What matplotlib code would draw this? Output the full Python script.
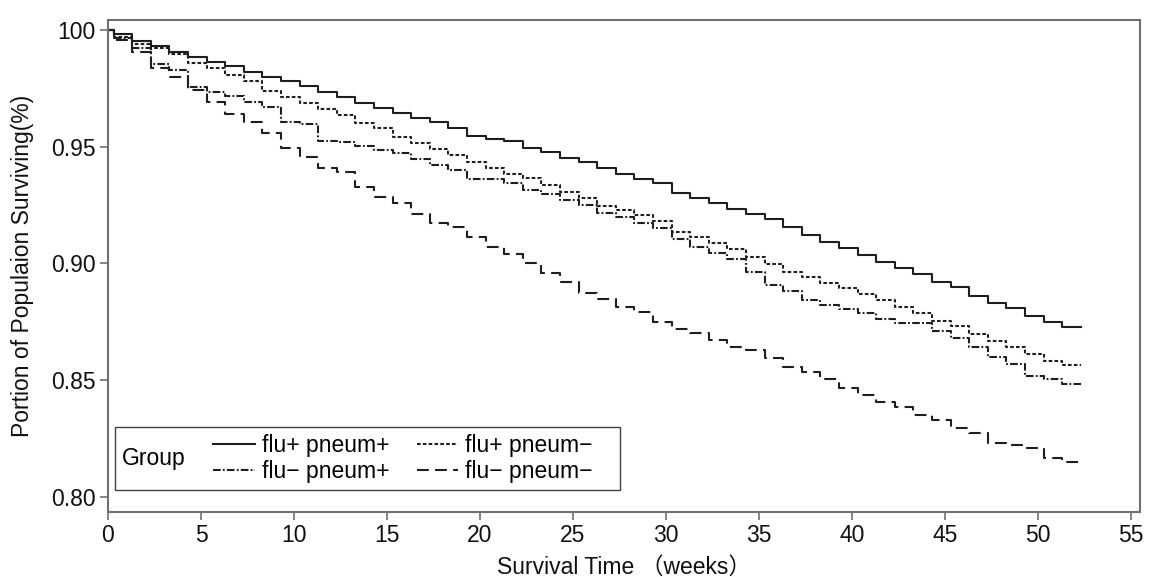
import matplotlib
matplotlib.use("Agg")
import matplotlib.pyplot as plt
from matplotlib.offsetbox import HPacker, DrawingArea

plt.rcParams['font.family'] = ['Liberation Sans', 'Noto Sans CJK SC', 'DejaVu Sans']
plt.rcParams['lines.scale_dashes'] = False

# step times (weeks); the last value is where the curves stop
weeks = [0, 0.3, 1.3, 2.3, 3.3, 4.3, 5.3, 6.3, 7.3, 8.3, 9.3, 10.3, 11.3, 12.3,
         13.3, 14.3, 15.3, 16.3, 17.3, 18.3, 19.3, 20.3, 21.3, 22.3, 23.3, 24.3,
         25.3, 26.3, 27.3, 28.3, 29.3, 30.3, 31.3, 32.3, 33.3, 34.3, 35.3, 36.3,
         37.3, 38.3, 39.3, 40.3, 41.3, 42.3, 43.3, 44.3, 45.3, 46.3, 47.3, 48.3,
         49.3, 50.3, 51.3, 52.3]

flu_pos_pneum_pos = [1.000, 0.9982, 0.9954, 0.9933, 0.9904, 0.9883, 0.9864, 0.9846, 0.9821,
                     0.9799, 0.9783, 0.9760, 0.9736, 0.9714, 0.9687, 0.9667, 0.9646, 0.9621,
                     0.9606, 0.9579, 0.9546, 0.9534, 0.9524, 0.9493, 0.9478, 0.9450, 0.9436,
                     0.9407, 0.9385, 0.9362, 0.9343, 0.9303, 0.9279, 0.9260, 0.9231, 0.9210,
                     0.9189, 0.9154, 0.9121, 0.9093, 0.9064, 0.9036, 0.9007, 0.8979, 0.8954,
                     0.8921, 0.8897, 0.8860, 0.8831, 0.8807, 0.8774, 0.8750, 0.8728]

flu_pos_pneum_neg = [1.000, 0.9971, 0.9940, 0.9921, 0.9896, 0.9857, 0.9836, 0.9807, 0.9781,
                     0.9739, 0.9714, 0.9686, 0.9660, 0.9636, 0.9600, 0.9578, 0.9543, 0.9517,
                     0.9490, 0.9464, 0.9436, 0.9407, 0.9381, 0.9364, 0.9336, 0.9304, 0.9279,
                     0.9247, 0.9228, 0.9209, 0.9181, 0.9136, 0.9114, 0.9088, 0.9060, 0.9028,
                     0.8997, 0.8961, 0.8943, 0.8914, 0.8895, 0.8868, 0.8843, 0.8812, 0.8786,
                     0.8754, 0.8731, 0.8697, 0.8667, 0.8643, 0.8610, 0.8583, 0.8564]

flu_neg_pneum_pos = [1.000, 0.9964, 0.9921, 0.9853, 0.9829, 0.9757, 0.9736, 0.9717, 0.9693,
                     0.9671, 0.9604, 0.9596, 0.9524, 0.9519, 0.9504, 0.9486, 0.9471, 0.9447,
                     0.9421, 0.9400, 0.9360, 0.9360, 0.9346, 0.9314, 0.9296, 0.9271, 0.9250,
                     0.9217, 0.9197, 0.9171, 0.9150, 0.9103, 0.9069, 0.9043, 0.9017, 0.8964,
                     0.8907, 0.8883, 0.8843, 0.8821, 0.8803, 0.8788, 0.8761, 0.8743, 0.8743,
                     0.8710, 0.8679, 0.8643, 0.8597, 0.8567, 0.8518, 0.8503, 0.8481]

flu_neg_pneum_neg = [1.000, 0.9957, 0.9904, 0.9839, 0.9800, 0.9743, 0.9690, 0.9639, 0.9604,
                     0.9557, 0.9495, 0.9457, 0.9407, 0.9393, 0.9328, 0.9286, 0.9260, 0.9211,
                     0.9171, 0.9157, 0.9114, 0.9069, 0.9041, 0.9000, 0.8960, 0.8921, 0.8874,
                     0.8846, 0.8814, 0.8793, 0.8750, 0.8719, 0.8700, 0.8672, 0.8643, 0.8628,
                     0.8593, 0.8554, 0.8535, 0.8503, 0.8464, 0.8436, 0.8407, 0.8385, 0.8350,
                     0.8328, 0.8293, 0.8272, 0.8231, 0.8221, 0.8207, 0.8164, 0.8147]

group_labels = ["flu+ pneum+", "flu\u2212 pneum+", "flu+ pneum\u2212", "flu\u2212 pneum\u2212"]
x_ticks = [0, 5, 10, 15, 20, 25, 30, 35, 40, 45, 50, 55]
y_ticks = [0.80, 0.85, 0.90, 0.95, 1.00]
y_tick_labels = ["0.80", "0.85", "0.90", "0.95", "100"]

FS = 16.5
LC = '#1e1e1e'
AX = '#707070'

fig = plt.figure(figsize=(11.49, 5.77), dpi=100)
ax = fig.add_axes([108 / 1149, 1 - 512 / 577, (1140 - 108) / 1149, (512 - 20) / 577])

styles = {
    "flu+ pneum+": '-',
    "flu+ pneum\u2212": (0, (2.6, 1.6)),
    "flu\u2212 pneum+": (0, (5.5, 1.6, 1.3, 1.6)),
    "flu\u2212 pneum\u2212": (0, (8.5, 4.5)),
}
series = {
    "flu+ pneum+": flu_pos_pneum_pos,
    "flu+ pneum\u2212": flu_pos_pneum_neg,
    "flu\u2212 pneum+": flu_neg_pneum_pos,
    "flu\u2212 pneum\u2212": flu_neg_pneum_neg,
}
handles = {}
for name, vals in series.items():
    ys = list(vals) + [vals[-1]]
    ln, = ax.plot(weeks, ys, drawstyle='steps-post', color=LC, lw=1.5,
                  linestyle=styles[name], label=name)
    handles[name] = ln

ax.set_xlim(0, 55.48)
ax.set_ylim(0.7934, 1.0043)
ax.set_xticks(x_ticks)
ax.set_xticklabels([str(t) for t in x_ticks])
ax.set_yticks(y_ticks)
ax.set_yticklabels(y_tick_labels)
ax.tick_params(axis='both', direction='out', length=6, width=1.2, color=AX,
               labelsize=FS, labelcolor='#111111', pad=3)
for sp in ax.spines.values():
    sp.set_color(AX)
    sp.set_linewidth(1.5)

ax.set_xlabel("Survival Time \uff08weeks\uff09", fontsize=FS, color='#111111', labelpad=6)
ax.set_ylabel("Portion of Populaion Surviving(%)", fontsize=FS, color='#111111', labelpad=12)

order = group_labels
leg = ax.legend([handles[n] for n in order], order, ncol=2, loc='lower left',
                bbox_to_anchor=(0.0068, 0.0447), fontsize=FS, title="Group",
                title_fontsize=FS, frameon=True, fancybox=False, edgecolor='#111111',
                handlelength=1.8, handletextpad=0.3, columnspacing=1.2,
                labelspacing=0.15, borderpad=0.3, borderaxespad=0.0)
leg.get_frame().set_linewidth(1.0)
# place the title to the left of the entries, with a little room on the right
entries = HPacker(pad=0, sep=0, align='center',
                  children=[leg._legend_handle_box, DrawingArea(15, 1)])
leg._legend_box = HPacker(pad=0.3 * FS, sep=20, align='center',
                          children=[leg._legend_title_box, entries])
leg._legend_box.set_figure(fig)
leg._legend_box.axes = ax
leg._legend_box.set_offset(leg._findoffset)

fig.savefig("out.png", dpi=100)
